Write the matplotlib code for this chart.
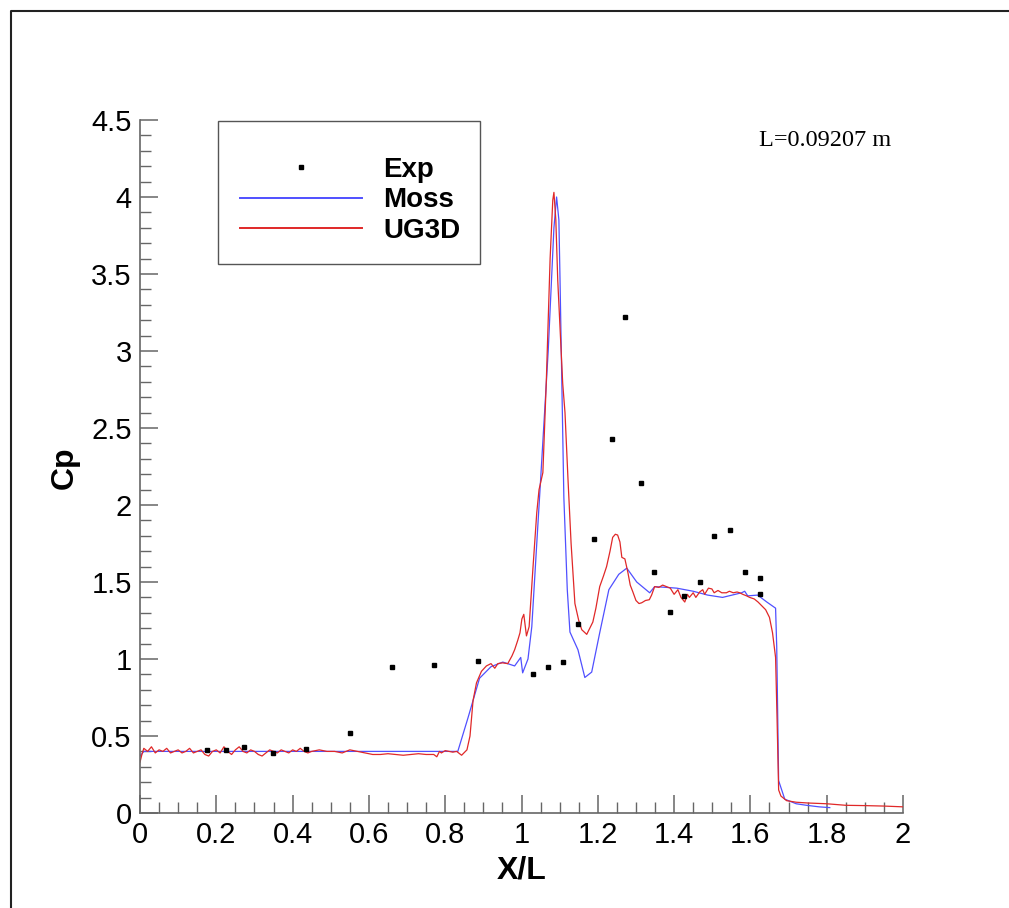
import matplotlib
matplotlib.use("Agg")
import matplotlib.pyplot as plt
import numpy as np
from matplotlib.lines import Line2D
from matplotlib.patches import Rectangle
from matplotlib.ticker import MultipleLocator, FuncFormatter

plt.rcParams['font.family'] = ['Liberation Sans', 'DejaVu Sans']

# experiment
exp_x = [0.176, 0.225, 0.272, 0.348, 0.435, 0.55, 0.66, 0.77, 0.885, 1.03,
         1.07, 1.108, 1.148, 1.19, 1.237, 1.271, 1.313, 1.347, 1.39, 1.425,
         1.467, 1.504, 1.546, 1.585, 1.624, 1.624]
exp_y = [0.41, 0.41, 0.43, 0.39, 0.415, 0.52, 0.95, 0.96, 0.99, 0.90,
         0.95, 0.98, 1.23, 1.78, 2.43, 3.22, 2.14, 1.565, 1.305, 1.41,
         1.50, 1.80, 1.84, 1.565, 1.525, 1.42]

# Moss
moss_x = [0.0, 0.01, 0.03, 0.1, 0.2, 0.3, 0.4, 0.5, 0.6, 0.7, 0.8, 0.833,
          0.86, 0.89, 0.92, 0.951, 0.982, 0.998, 1.003, 1.017, 1.027, 1.04,
          1.05, 1.07, 1.085, 1.092, 1.098, 1.101, 1.111, 1.12, 1.127, 1.148,
          1.166, 1.184, 1.205, 1.229, 1.255, 1.276, 1.302, 1.336, 1.349, 1.38,
          1.407, 1.45, 1.488, 1.527, 1.577, 1.585, 1.593, 1.619, 1.643, 1.666,
          1.669, 1.674, 1.69, 1.72, 1.747, 1.78, 1.808]
moss_y = [0.37, 0.40, 0.40, 0.40, 0.40, 0.40, 0.40, 0.40, 0.40, 0.40, 0.40, 0.40,
          0.62, 0.875, 0.95, 0.98, 0.955, 1.01, 0.91, 1.0, 1.21, 1.75,
          2.16, 3.0, 3.8, 4.0, 3.85, 3.46, 2.05, 1.45, 1.175, 1.06,
          0.88, 0.915, 1.17, 1.45, 1.55, 1.59, 1.50, 1.43, 1.47, 1.465,
          1.46, 1.44, 1.415, 1.40, 1.43, 1.44, 1.41, 1.415, 1.37, 1.33,
          1.08, 0.21, 0.09, 0.06, 0.05, 0.04, 0.035]

# UG3D
ug_x = [0.0, 0.005, 0.01, 0.02, 0.03, 0.04, 0.05, 0.06, 0.07, 0.08, 0.09,
        0.10, 0.11, 0.12, 0.13, 0.14, 0.15, 0.16, 0.17, 0.18, 0.19, 0.20,
        0.21, 0.22, 0.23, 0.24, 0.25, 0.26, 0.27, 0.28, 0.29, 0.30, 0.31,
        0.32, 0.33, 0.34, 0.35, 0.36, 0.37, 0.38, 0.39, 0.40, 0.41, 0.42,
        0.43, 0.44, 0.45, 0.47, 0.49, 0.51, 0.53, 0.55, 0.57, 0.59, 0.61,
        0.63, 0.65, 0.67, 0.69, 0.71, 0.73, 0.75, 0.77, 0.778, 0.785, 0.79,
        0.80, 0.81, 0.82, 0.83, 0.843, 0.857,
        0.865, 0.873, 0.882, 0.895, 0.908, 0.92, 0.93, 0.938, 0.95, 0.964,
        0.975, 0.982, 0.99, 0.996, 1.001, 1.006, 1.013, 1.02, 1.03, 1.04,
        1.046, 1.056, 1.065, 1.075, 1.082, 1.085, 1.09, 1.095, 1.102, 1.108,
        1.114, 1.122, 1.13, 1.14, 1.15, 1.158, 1.171, 1.187, 1.195, 1.205,
        1.215, 1.223, 1.232, 1.239, 1.246, 1.252, 1.258, 1.263, 1.271, 1.279,
        1.285, 1.292, 1.30, 1.308, 1.315, 1.325, 1.335, 1.341, 1.349, 1.36,
        1.37, 1.38, 1.39, 1.40, 1.41, 1.418, 1.428, 1.435, 1.44, 1.45,
        1.457, 1.467, 1.475, 1.48, 1.49, 1.499, 1.505, 1.515, 1.525, 1.537,
        1.545, 1.555, 1.565, 1.572, 1.58, 1.59, 1.598, 1.61, 1.62, 1.632,
        1.64, 1.65, 1.658, 1.666, 1.67, 1.674, 1.68, 1.695, 1.72, 1.75,
        1.80, 1.85, 1.90, 1.95, 2.0]
ug_y = [0.33, 0.38, 0.42, 0.40, 0.43, 0.39, 0.41, 0.40, 0.42, 0.39, 0.40,
        0.41, 0.39, 0.40, 0.42, 0.39, 0.40, 0.41, 0.38, 0.37, 0.40, 0.41,
        0.39, 0.43, 0.40, 0.38, 0.41, 0.43, 0.40, 0.39, 0.41, 0.40, 0.38,
        0.37, 0.39, 0.41, 0.40, 0.39, 0.41, 0.40, 0.39, 0.41, 0.40, 0.42,
        0.40, 0.39, 0.40, 0.41, 0.40, 0.40, 0.39, 0.41, 0.40, 0.39, 0.38,
        0.38, 0.385, 0.38, 0.375, 0.38, 0.385, 0.38, 0.38, 0.365, 0.40, 0.39,
        0.405, 0.40, 0.395, 0.40, 0.375, 0.41,
        0.50, 0.73, 0.845, 0.92, 0.955, 0.97, 0.94, 0.97, 0.975, 0.97,
        1.02, 1.06, 1.12, 1.17, 1.26, 1.29, 1.15, 1.21, 1.59, 1.95,
        2.1, 2.21, 2.8, 3.6, 3.98, 4.03, 3.85, 3.46, 3.1, 2.79,
        2.6, 2.16, 1.75, 1.36, 1.25, 1.19, 1.16, 1.24, 1.33, 1.47,
        1.54, 1.60, 1.70, 1.79, 1.81, 1.805, 1.76, 1.66, 1.65, 1.56,
        1.48, 1.435, 1.38, 1.36, 1.365, 1.38, 1.385, 1.415, 1.47, 1.465,
        1.48, 1.47, 1.46, 1.42, 1.45, 1.40, 1.37, 1.42, 1.40, 1.43,
        1.40, 1.435, 1.45, 1.42, 1.46, 1.455, 1.43, 1.445, 1.43, 1.43,
        1.44, 1.43, 1.435, 1.43, 1.42, 1.41, 1.40, 1.39, 1.37, 1.34,
        1.32, 1.27, 1.17, 1.01, 0.6, 0.15, 0.11, 0.08, 0.07, 0.065,
        0.06, 0.05, 0.048, 0.045, 0.04]

W, H = 1009, 908
fig = plt.figure(figsize=(W / 100, H / 100), dpi=100)
ax = fig.add_axes([140 / W, 1 - 813 / H, 763 / W, 693 / H])

ax.plot(moss_x, moss_y, color='#5050ff', lw=0.9, label='Moss')
ax.plot(ug_x, ug_y, color='#e02828', lw=0.9, label='UG3D')
ax.plot(exp_x, exp_y, ls='none', marker='s', ms=3.2, color='black', label='Exp')

ax.set_xlim(0, 2)
ax.set_ylim(0, 4.5)
ax.xaxis.set_major_locator(MultipleLocator(0.2))
ax.xaxis.set_minor_locator(MultipleLocator(0.05))
ax.yaxis.set_major_locator(MultipleLocator(0.5))
ax.yaxis.set_minor_locator(MultipleLocator(0.1))
ax.xaxis.set_major_formatter(FuncFormatter(lambda v, p: f"{v:g}"))
ax.yaxis.set_major_formatter(FuncFormatter(lambda v, p: f"{v:g}"))

for s in ['top', 'right']:
    ax.spines[s].set_visible(False)
for s in ['left', 'bottom']:
    ax.spines[s].set_color('#666666')
    ax.spines[s].set_linewidth(1.2)
ax.tick_params(which='major', direction='in', length=13, width=1.1,
               color='#666666', labelsize=21, pad=6)
ax.tick_params(which='minor', direction='in', length=8, width=1.0,
               color='#666666')

ax.set_xlabel('X/L', fontsize=23, fontweight='bold')
ax.set_ylabel('Cp', fontsize=23, fontweight='bold')
ax.xaxis.set_label_coords(0.5, -0.061)
ax.yaxis.set_label_coords(-0.079, 0.498)

# legend in tecplot order
h, l = ax.get_legend_handles_labels()
order = [2, 0, 1]
leg = ax.legend([h[i] for i in order], [l[i] for i in order],
                loc='upper left', bbox_to_anchor=(240 / W, 1 - 157 / H),
                bbox_transform=fig.transFigure, frameon=False, borderpad=0,
                numpoints=1, handlelength=4.39, handletextpad=0.76,
                labelspacing=0.16, borderaxespad=0,
                prop={'size': 20, 'weight': 'bold'})
for ln in leg.get_lines()[1:]:
    ln.set_linewidth(1.4)
fig.patches.append(Rectangle((218 / W, 1 - 264 / H), 262 / W, 143 / H,
                             transform=fig.transFigure, fill=False,
                             edgecolor='#555555', lw=1.0))

fig.text(759 / W, 1 - 141 / H, 'L=0.09207 m', family='Liberation Serif',
         fontsize=17.5, va='center', ha='left')

# outer frame
fig.add_artist(Line2D([11 / W, 11 / W, 1.0], [0.0, 1 - 11 / H, 1 - 11 / H],
                      transform=fig.transFigure, color='#222222', lw=1.5))

fig.savefig('out.png', dpi=100)
